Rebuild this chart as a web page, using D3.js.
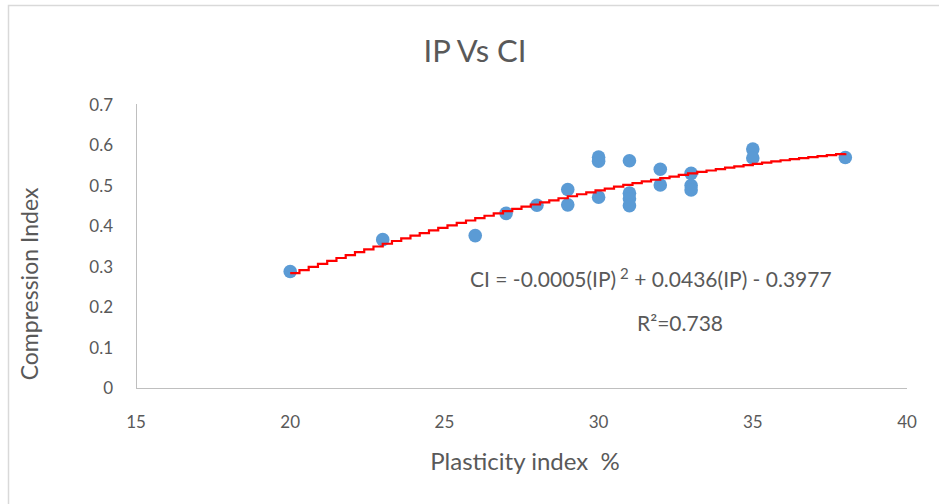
<!DOCTYPE html>
<html>
<head>
<meta charset="utf-8">
<script src="https://cdn.jsdelivr.net/npm/d3@7"></script>
<style>
  body { margin: 0; background: #fff; }
  text { font-family: Lato, "Open Sans", sans-serif; fill: #595959; }
</style>
</head>
<body>
<svg id="chart" width="939" height="504"></svg>
<script>
// plasticity index values (x) and compression index values (y)
const plasticity = [20, 23, 26, 27, 28, 29, 29, 30, 30, 30, 31, 31, 31, 31, 32, 32, 33, 33, 33, 35, 35, 38];
const compression = [0.288, 0.367, 0.377, 0.432, 0.452, 0.491, 0.453, 0.571, 0.561, 0.472, 0.562,
  0.482, 0.468, 0.451, 0.541, 0.502, 0.531, 0.501, 0.490, 0.591, 0.569, 0.570];
const xTicks = [15, 20, 25, 30, 35, 40];
const yTicks = [0, 0.1, 0.2, 0.3, 0.4, 0.5, 0.6, 0.7];

const svg = d3.select('#chart');

const plot = { left: 136, right: 907, top: 105, bottom: 388 };

const x = d3.scaleLinear().domain([15, 40]).range([plot.left, plot.right]);
const y = d3.scaleLinear().domain([0, 0.7]).range([plot.bottom, plot.top]);

// chart border
svg.append('rect')
  .attr('x', 8.5).attr('y', 5.5)
  .attr('width', 940).attr('height', 510)
  .attr('fill', 'none')
  .attr('stroke', '#d9d9d9')
  .attr('stroke-width', 1.5);

// title
svg.append('text')
  .attr('x', 475).attr('y', 62)
  .attr('text-anchor', 'middle')
  .style('font-size', '31px')
  .text('IP Vs CI');

// axes
svg.append('line')
  .attr('x1', plot.left + 0.5).attr('x2', plot.left + 0.5)
  .attr('y1', plot.top - 1).attr('y2', plot.bottom)
  .attr('stroke', '#bfbfbf');
svg.append('line')
  .attr('x1', plot.left).attr('x2', plot.right)
  .attr('y1', plot.bottom + 0.5).attr('y2', plot.bottom + 0.5)
  .attr('stroke', '#bfbfbf');

svg.selectAll('.ytick')
  .data(yTicks)
  .enter()
  .append('text')
  .attr('class', 'ytick')
  .attr('x', 113)
  .attr('y', d => y(d) + 6)
  .attr('text-anchor', 'end')
  .style('font-size', '17px')
  .text(d => d === 0 ? '0' : d3.format('.1f')(d));

svg.selectAll('.xtick')
  .data(xTicks)
  .enter()
  .append('text')
  .attr('class', 'xtick')
  .attr('x', d => x(d))
  .attr('y', 428)
  .attr('text-anchor', 'middle')
  .style('font-size', '17px')
  .text(d => d);

// axis titles
svg.append('text')
  .attr('x', 525).attr('y', 470)
  .attr('text-anchor', 'middle')
  .attr('xml:space', 'preserve')
  .style('white-space', 'pre')
  .style('font-size', '24px')
  .text('Plasticity index  %');

svg.append('text')
  .attr('transform', 'translate(38,284) rotate(-90)')
  .attr('text-anchor', 'middle')
  .style('font-size', '23px')
  .text('Compression Index');

// points
const points = plasticity.map((p, i) => ({ ip: p, ci: compression[i] }));

svg.selectAll('.dot')
  .data(points)
  .enter()
  .append('circle')
  .attr('class', 'dot')
  .attr('cx', d => x(d.ip))
  .attr('cy', d => y(d.ci))
  .attr('r', 6.8)
  .attr('fill', '#5b9bd5');

// quadratic least-squares trendline through the points
function polyFit (xs, ys) {
  const s = [0, 0, 0, 0, 0];
  const t = [0, 0, 0];
  xs.forEach((xv, i) => {
    for (let k = 0; k < 5; k++) s[k] += Math.pow(xv, k);
    for (let k = 0; k < 3; k++) t[k] += ys[i] * Math.pow(xv, k);
  });
  // solve 3x3 system [s0 s1 s2; s1 s2 s3; s2 s3 s4] c = t
  const m = [[s[0], s[1], s[2], t[0]], [s[1], s[2], s[3], t[1]], [s[2], s[3], s[4], t[2]]];
  for (let c = 0; c < 3; c++) {
    for (let r = c + 1; r < 3; r++) {
      const f = m[r][c] / m[c][c];
      for (let k = c; k < 4; k++) m[r][k] -= f * m[c][k];
    }
  }
  const coef = [0, 0, 0];
  for (let r = 2; r >= 0; r--) {
    let v = m[r][3];
    for (let k = r + 1; k < 3; k++) v -= m[r][k] * coef[k];
    coef[r] = v / m[r][r];
  }
  return coef;
}

const coef = polyFit(plasticity, compression);
const xMin = d3.min(plasticity);
const xMax = d3.max(plasticity);
const trend = d3.range(xMin, xMax + 0.001, 0.3).concat([xMax])
  .map(v => ({ ip: v, ci: coef[0] + coef[1] * v + coef[2] * v * v }));

svg.append('path')
  .datum(trend)
  .attr('d', d3.line().x(d => x(d.ip)).y(d => y(d.ci)).curve(d3.curveStepAfter))
  .attr('fill', 'none')
  .attr('stroke', '#ff0000')
  .attr('stroke-width', 2.2);

// equation labels
const eq = svg.append('text')
  .attr('x', 470).attr('y', 287)
  .style('font-size', '21px');
eq.append('tspan').text('CI = -0.0005(IP)');
eq.append('tspan').attr('dy', -8).style('font-size', '15px').text(' 2');
eq.append('tspan').attr('dy', 8).text(' + 0.0436(IP) - 0.3977');

svg.append('text')
  .attr('x', 637).attr('y', 331)
  .style('font-size', '21px')
  .text('R²=0.738');
</script>
</body>
</html>
